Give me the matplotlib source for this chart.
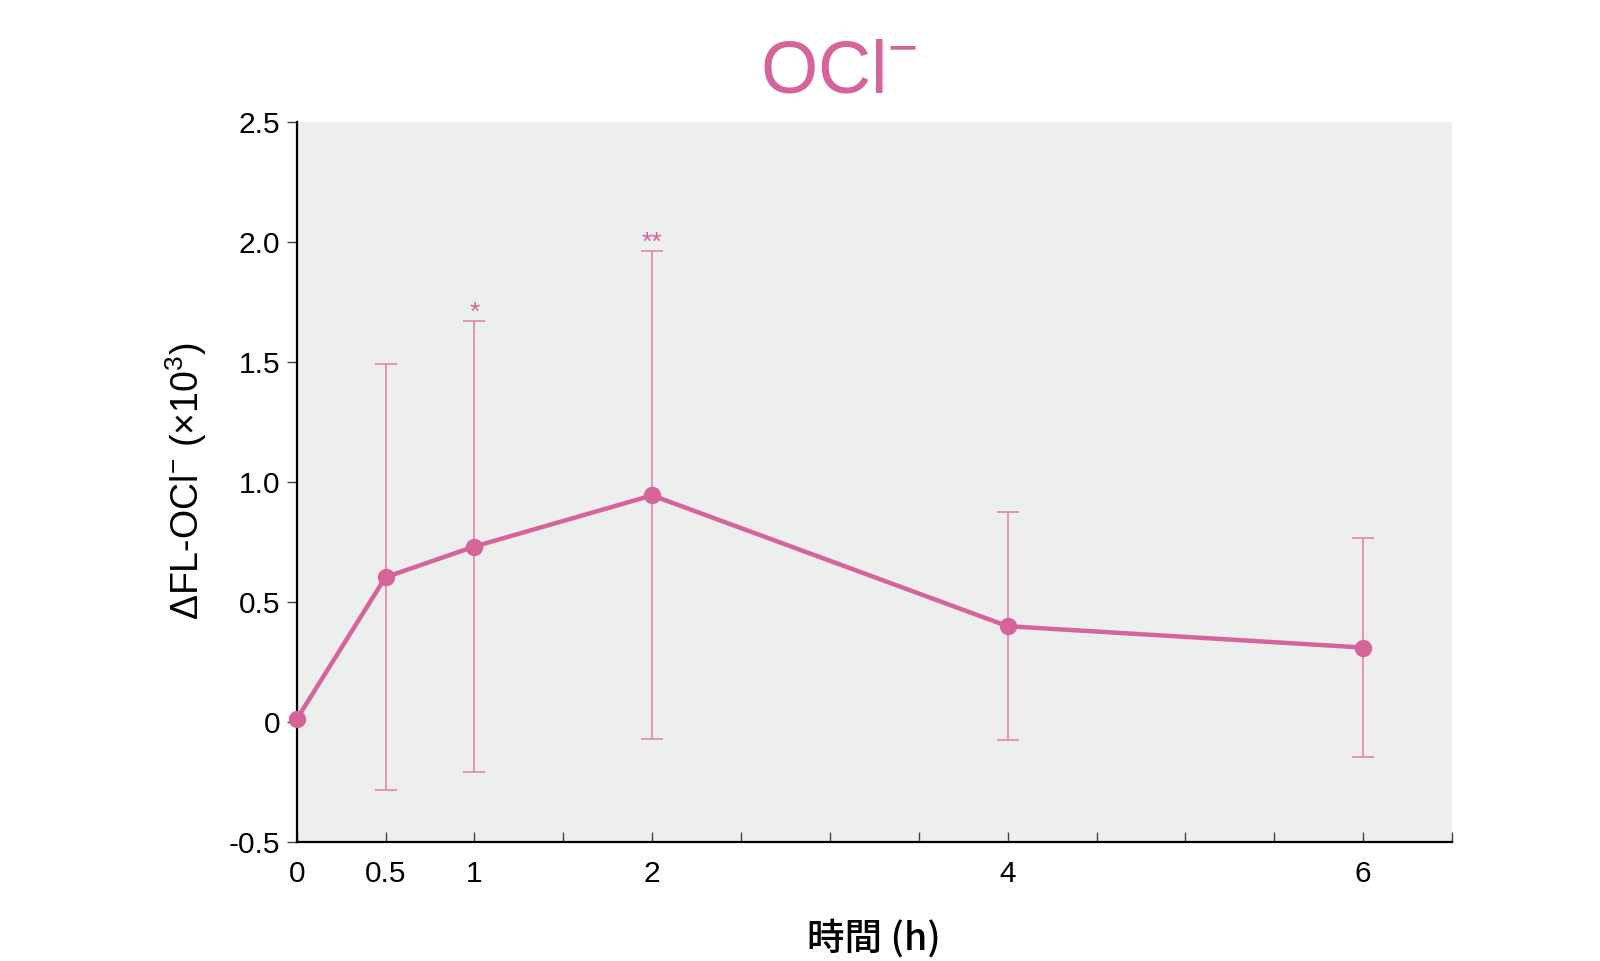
import matplotlib
matplotlib.use("Agg")
import matplotlib.pyplot as plt

plt.rcParams['font.family'] = ['Liberation Sans', 'DejaVu Sans']
plt.rcParams['mathtext.default'] = 'regular'

# 데이터
hours = [0, 0.5, 1, 2, 4, 6]
fl_mean = [0.01, 0.602, 0.730, 0.943, 0.398, 0.309]
fl_sd = [0.0, 0.887, 0.94, 1.017, 0.474, 0.457]
stars = {1: '*', 2: '**'}
xticks = [0, 0.5, 1, 2, 4, 6]
xtick_labels = ['0', '0.5', '1', '2', '4', '6']
xminor = [1.5, 2.5, 3, 3.5, 4.5, 5, 5.5, 6.5]
yticks = [-0.5, 0, 0.5, 1.0, 1.5, 2.0, 2.5]
ytick_labels = ['-0.5', '0', '0.5', '1.0', '1.5', '2.0', '2.5']

pink = '#D6639A'
pink_light = '#E07FAA'

fig = plt.figure(figsize=(16, 9.61), dpi=100)
ax = fig.add_axes([0.1854, 0.1241, 0.7221, 0.7493])
ax.set_facecolor('#EDEEEE')

ax.errorbar(hours[1:], fl_mean[1:], yerr=fl_sd[1:], fmt='none',
            ecolor=pink_light, elinewidth=1.1, capsize=8, capthick=1.1, zorder=2)
ax.plot(hours, fl_mean, color=pink, lw=3.2, marker='o', ms=12.5,
        markeredgewidth=0, zorder=3, clip_on=False)

for x, s in stars.items():
    i = hours.index(x)
    ax.text(x, fl_mean[i] + fl_sd[i] - 0.015, s, color=pink, fontsize=19,
            ha='center', va='bottom')

ax.set_xlim(0, 6.5)
ax.set_ylim(-0.5, 2.5)
ax.set_xticks(xticks)
ax.set_xticklabels(xtick_labels)
ax.set_xticks(xminor, minor=True)
ax.set_yticks(yticks)
ax.set_yticklabels(ytick_labels)

for side in ['top', 'right']:
    ax.spines[side].set_visible(False)
for side in ['left', 'bottom']:
    ax.spines[side].set_linewidth(1.6)
    ax.spines[side].set_color('black')

ax.tick_params(axis='x', which='both', direction='in', length=7.5, width=1,
               color='#444444', labelsize=21.5, pad=13)
ax.tick_params(axis='y', direction='out', length=7, width=1,
               color='#444444', labelsize=21.5, pad=5)

ax.set_ylabel('ΔFL-OCl$^{-}$ (×10$^{3}$)', fontsize=27, labelpad=14)
ax.set_xlabel('時間 (h)', fontsize=27, labelpad=22, fontweight='medium',
              family=['Noto Sans CJK JP', 'DejaVu Sans'])

fig.text(0.524, 1 - 92.7 / 961, 'OCl$^{-}$', color=pink, fontsize=53,
         ha='center', va='baseline')

fig.savefig('out.png', dpi=100)
